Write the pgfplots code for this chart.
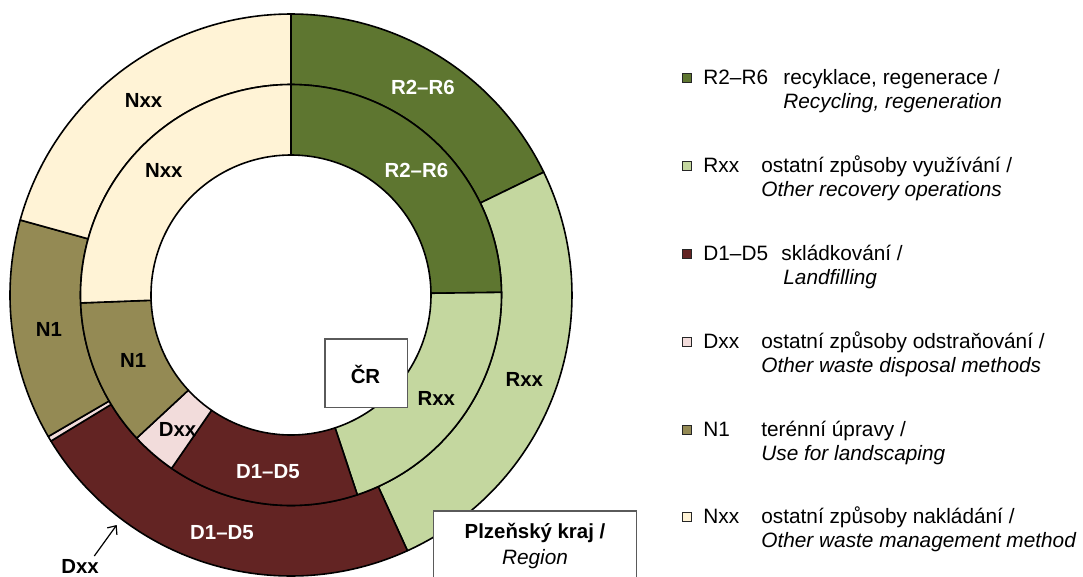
\documentclass[border=0pt]{standalone}
\usepackage{pgfplots}
\pgfplotsset{compat=1.18}
\usetikzlibrary{arrows.meta}
\usepackage{fontspec}
\setmainfont{Liberation Sans}
\definecolor{cRR}{HTML}{5E7630}
\definecolor{cRxx}{HTML}{C4D79F}
\definecolor{cDD}{HTML}{632423}
\definecolor{cDxx}{HTML}{F2DCDB}
\definecolor{cNone}{HTML}{948A54}
\definecolor{cNxx}{HTML}{FFF3D6}
\definecolor{boxgray}{HTML}{5A5A5A}
% ring sector: colour, inner radius, outer radius, start %, end % (cumulative shares, clockwise from 12 o'clock)
% t in [0,1]: outer arc; [1,2]: radial edge; [2,3]: inner arc back
\newcommand{\sector}[5]{%
  \addplot[fill=#1, draw=black, line width=0.8bp, line join=round, domain=0:3, samples=301, variable=\t]
  ({(#3-(#3-#2)*max(0,min(1,\t-1)))*cos(90-3.6*(#4+(#5-#4)*min(\t,1,3-\t)))},
   {(#3-(#3-#2)*max(0,min(1,\t-1)))*sin(90-3.6*(#4+(#5-#4)*min(\t,1,3-\t)))}) -- cycle;
}
\newcommand{\lf}{\fontsize{10.4bp}{12.5bp}\selectfont}
\newcommand{\segf}{\fontsize{10.2bp}{12bp}\selectfont\bfseries}
\tikzset{lt/.style={anchor=west, inner sep=0pt, text height=0.7em, text depth=0pt},
  lsq/.style={draw=black!85, minimum size=4.2bp, inner sep=0pt, line width=0.6bp}}
\begin{document}
\begin{tikzpicture}
\useasboundingbox (0,0) rectangle (541.5bp,288.5bp);
\begin{axis}[at={(0,0)}, anchor=south west, x=0.5bp, y=0.5bp,
  xmin=-291, xmax=792, ymin=-282, ymax=295, hide axis, clip=false]
% Plzensky kraj (outer ring), shares %: 17.8 25.4 23.1 0.3 12.7 20.7
\sector{cRR}{210.5}{281}{0}{17.8}
\sector{cRxx}{210.5}{281}{17.8}{43.2}
\sector{cDD}{210.5}{281}{43.2}{66.3}
\sector{cDxx}{210.5}{281}{66.3}{66.6}
\sector{cNone}{210.5}{281}{66.6}{79.3}
\sector{cNxx}{210.5}{281}{79.3}{100}
% CR (inner ring), shares %: 24.8 20.1 14.7 3.5 11.3 25.6
\sector{cRR}{140}{210.5}{0}{24.8}
\sector{cRxx}{140}{210.5}{24.8}{44.9}
\sector{cDD}{140}{210.5}{44.9}{59.6}
\sector{cDxx}{140}{210.5}{59.6}{63.1}
\sector{cNone}{140}{210.5}{63.1}{74.4}
\sector{cNxx}{140}{210.5}{74.4}{100}
% segment labels
\node[text=white] at (131.9,207.5) {\segf R2–R6};
\node[text=white] at (125.4,124.5) {\segf R2–R6};
\node at (-147.5,194.6) {\segf Nxx};
\node at (-127.2,124.2) {\segf Nxx};
\node at (-242,-34) {\segf N1};
\node at (-157.8,-65) {\segf N1};
\node at (-113.5,-134.6) {\segf Dxx};
\node[text=white] at (-23.1,-176.2) {\segf D1–D5};
\node[text=white] at (-69,-237.5) {\segf D1–D5};
\node at (145.3,-103.5) {\segf Rxx};
\node at (233.3,-84.3) {\segf Rxx};
\node at (-211,-271.5) {\segf Dxx};
\draw[-{Straight Barb[length=3.5bp,width=6bp]}, line width=0.6bp] (-196.7,-261) -- (-174.3,-230);
% boxes
\draw[boxgray, fill=white, line width=0.7bp] (34,-44) rectangle (116.7,-112.7);
\node at (74.5,-79.5) {\segf ČR};
\draw[boxgray, fill=white, line width=0.7bp] (142.3,-216) rectangle (345.7,-320);
\node at (244,-238) {\segf Plzeňský kraj /};
\node at (244,-263.7) {\lf\itshape Region};
% legend
\node[lsq, fill=cRR] at (396,217) {};
\node[lsq, fill=cRxx] at (396,129) {};
\node[lsq, fill=cDD] at (396,41) {};
\node[lsq, fill=cDxx] at (396,-47) {};
\node[lsq, fill=cNone] at (396,-135) {};
\node[lsq, fill=cNxx] at (396,-222) {};
\node[lt] at (412,217) {\lf R2–R6};
\node[lt] at (492,217) {\lf recyklace, regenerace /};
\node[lt] at (492,193) {\lf\itshape Recycling, regeneration};
\node[lt] at (412,129) {\lf Rxx};
\node[lt] at (470,129) {\lf ostatní způsoby využívání /};
\node[lt] at (470,105) {\lf\itshape Other recovery operations};
\node[lt] at (412,41) {\lf D1–D5};
\node[lt] at (490,41) {\lf skládkování /};
\node[lt] at (492,17) {\lf\itshape Landfilling};
\node[lt] at (412,-47) {\lf Dxx};
\node[lt] at (470,-47) {\lf ostatní způsoby odstraňování /};
\node[lt] at (470,-71) {\lf\itshape Other waste disposal methods};
\node[lt] at (412,-135) {\lf N1};
\node[lt] at (470,-135) {\lf terénní úpravy /};
\node[lt] at (470,-159) {\lf\itshape Use for landscaping};
\node[lt] at (412,-222) {\lf Nxx};
\node[lt] at (470,-222) {\lf ostatní způsoby nakládání /};
\node[lt] at (470,-246) {\lf\itshape Other waste management method};
\end{axis}
\end{tikzpicture}
\end{document}
